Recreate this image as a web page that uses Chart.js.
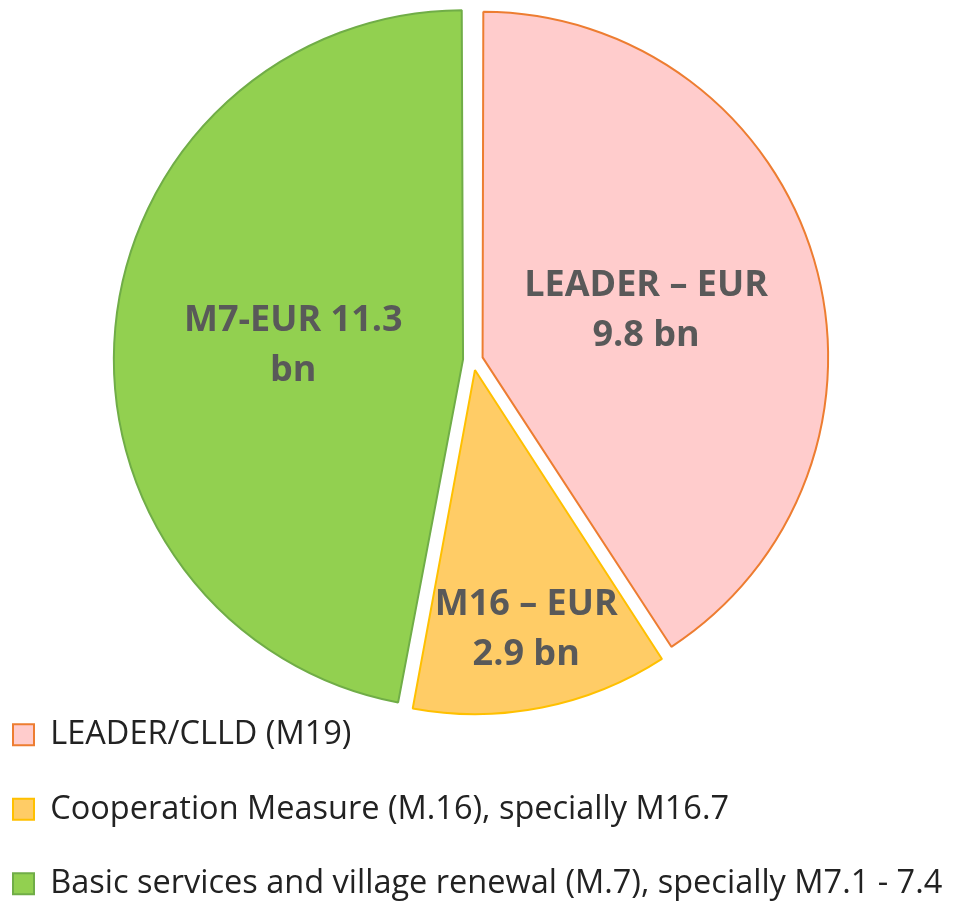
<!DOCTYPE html>
<html>
<head>
<meta charset="utf-8">
<script src="https://cdn.jsdelivr.net/npm/chart.js@4.4.1/dist/chart.umd.min.js"></script>
<style>
  html, body { margin: 0; padding: 0; background: #fff; }
  #wrap { width: 957px; height: 902px; }
</style>
</head>
<body>
<div id="wrap"><canvas id="chart" width="957" height="902"></canvas></div>
<script>
// RDP rural allocations, EUR bn
const categories = [
    'LEADER/CLLD (M19)',
    'Cooperation Measure (M.16), specially M16.7',
    'Basic services and village renewal (M.7), specially M7.1 - 7.4'
];
const valuesBn = [9.8, 2.9, 11.3];
const sliceLabels = [
    ['LEADER – EUR', '9.8 bn'],
    ['M16 – EUR', '2.9 bn'],
    ['M7-EUR 11.3', 'bn']
];

const fillColors = ['#FFCCCC', '#FFCC66', '#92D050'];
const borderColors = ['#ED7D31', '#FFC000', '#70AD47'];
// where along the radius each label sits (Excel "best fit" placement)
const labelRadius = [0.5, 0.77, 0.5];

const sliceLabelPlugin = {
    id: 'sliceLabels',
    afterDatasetsDraw(chart) {
        const ctx = chart.ctx;
        const meta = chart.getDatasetMeta(0);
        ctx.save();
        ctx.font = 'bold 36px "Open Sans"';
        ctx.fillStyle = '#595959';
        ctx.textAlign = 'center';
        ctx.textBaseline = 'middle';
        meta.data.forEach((arc, i) => {
            const p = arc.getProps(['x', 'y', 'startAngle', 'endAngle', 'outerRadius'], true);
            const mid = (p.startAngle + p.endAngle) / 2;
            // arc element moves by offset / 4
            const dist = (arc.options.offset || 0) / 4 + labelRadius[i] * p.outerRadius;
            const cx = p.x + Math.cos(mid) * dist;
            const cy = p.y + Math.sin(mid) * dist + 2;
            const lines = sliceLabels[i];
            const lh = 50;
            lines.forEach((line, j) => {
                ctx.fillText(line, cx, cy + (j - (lines.length - 1) / 2) * lh);
            });
        });
        ctx.restore();
    }
};

new Chart(document.getElementById('chart'), {
    type: 'pie',
    data: {
        labels: categories,
        datasets: [{
            data: valuesBn,
            backgroundColor: fillColors,
            borderColor: borderColors,
            borderWidth: 2,
            offset: 40,
            hoverOffset: 0
        }]
    },
    options: {
        responsive: false,
        animation: false,
        radius: 341,
        layout: {
            // negative left only shifts the legend; the chart area clamps at 0
            padding: { top: 44, bottom: -8, left: -29, right: 11 }
        },
        plugins: {
            legend: {
                position: 'bottom',
                align: 'start',
                labels: {
                    font: { family: 'Open Sans', size: 32.5 },
                    color: '#222222',
                    boxWidth: 21,
                    boxHeight: 21,
                    padding: 42
                }
            },
            tooltip: { enabled: false }
        }
    },
    plugins: [sliceLabelPlugin]
});
</script>
</body>
</html>
